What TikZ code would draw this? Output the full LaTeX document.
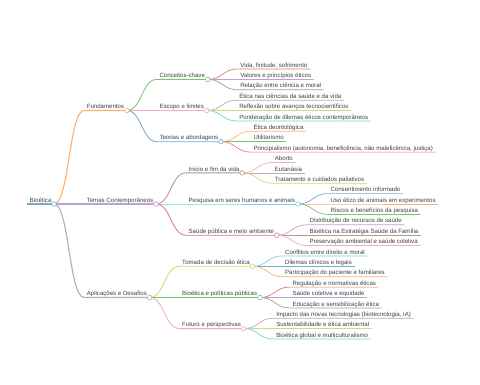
\documentclass[tikz,border=0pt]{standalone}
\usepackage{fontspec}
\setmainfont{Liberation Sans}
\usepackage{tikz}
\usetikzlibrary{calc}

\definecolor{dBlue}{HTML}{1F77B4}
\definecolor{dOrange}{HTML}{FF7F0E}
\definecolor{dGreen}{HTML}{2CA02C}
\definecolor{dRed}{HTML}{D62728}
\definecolor{dPurple}{HTML}{9467BD}
\definecolor{dBrown}{HTML}{8C564B}
\definecolor{dPink}{HTML}{E377C2}
\definecolor{dGray}{HTML}{7F7F7F}
\definecolor{dOlive}{HTML}{BCBD22}
\definecolor{dCyan}{HTML}{17BECF}
\colorlet{mmBlue}{dBlue!62!white}
\colorlet{mmOrange}{dOrange!62!white}
\colorlet{mmGreen}{dGreen!62!white}
\colorlet{mmRed}{dRed!62!white}
\colorlet{mmPurple}{dPurple!62!white}
\colorlet{mmBrown}{dBrown!62!white}
\colorlet{mmPink}{dPink!62!white}
\colorlet{mmGray}{dGray!62!white}
\colorlet{mmOlive}{dOlive!62!white}
\colorlet{mmCyan}{dCyan!62!white}

\tikzset{
  mm/.style={font=\fontsize{6.1}{7}\selectfont, text=black!75, inner xsep=2.5pt,
    inner ysep=1.7pt, text depth=0pt, anchor=south west},
  sub/.style={mm, xshift=30pt},
  link/.style={to path={let \p1=(\tikztostart), \p2=(\tikztotarget) in
    .. controls ({(\x1+\x2)/2},\y1) and ({(\x1+\x2)/2},\y2) .. (\tikztotarget)}},
  lone/.style={line width=1.1pt},
  ltwo/.style={line width=0.85pt},
  lthree/.style={line width=0.7pt},
  knob/.style={circle, draw, fill=white, inner sep=0pt, minimum size=4.6pt, line width=0.6pt},
}

\begin{document}
\begin{tikzpicture}[x=1pt, y=-1pt]
\fill[white] (0,0) rectangle (480,384);
\useasboundingbox (0,0) rectangle (480,384);

% root and main branches
\node[mm] (root) at (27,204) {Bioética};
\node[sub] (fund) at (root.south east |- 0,110.5) {Fundamentos};
\node[sub] (temas) at (root.south east |- 0,204) {Temas Contemporâneos};
\node[sub] (aplic) at (root.south east |- 0,297.5) {Aplicações e Desafios};

% second level
\node[sub] (conc) at (fund.south east |- 0,79.4) {Conceitos-chave};
\node[sub] (escopo) at (fund.south east |- 0,110.5) {Escopo e limites};
\node[sub] (teorias) at (fund.south east |- 0,141.7) {Teorias e abordagens};
\node[sub] (inicio) at (temas.south east |- 0,172.9) {Início e fim da vida};
\node[sub] (pesq) at (temas.south east |- 0,204) {Pesquisa em seres humanos e animais};
\node[sub] (saude) at (temas.south east |- 0,235.2) {Saúde pública e meio ambiente};
\node[sub] (tomada) at (aplic.south east |- 0,266.3) {Tomada de decisão ética};
\node[sub] (polit) at (aplic.south east |- 0,297.5) {Bioética e políticas públicas};
\node[sub] (futuro) at (aplic.south east |- 0,328.6) {Futuro e perspectivas};

% leaves
\node[sub] (vida) at (conc.south east |- 0,69) {Vida, finitude, sofrimento};
\node[sub] (valores) at (conc.south east |- 0,79.4) {Valores e princípios éticos};
\node[sub] (relacao) at (conc.south east |- 0,89.8) {Relação entre ciência e moral};
\node[sub] (etica) at (escopo.south east |- 0,100.2) {Ética nas ciências da saúde e da vida};
\node[sub] (reflexao) at (escopo.south east |- 0,110.5) {Reflexão sobre avanços tecnocientíficos};
\node[sub] (ponder) at (escopo.south east |- 0,120.9) {Ponderação de dilemas éticos contemporâneos};
\node[sub] (deont) at (teorias.south east |- 0,131.3) {Ética deontológica};
\node[sub] (utilit) at (teorias.south east |- 0,141.7) {Utilitarismo};
\node[sub] (princip) at (teorias.south east |- 0,152.1) {Principialismo (autonomia, beneficência, não maleficência, justiça)};
\node[sub] (aborto) at (inicio.south east |- 0,162.5) {Aborto};
\node[sub] (eutan) at (inicio.south east |- 0,172.9) {Eutanásia};
\node[sub] (tratam) at (inicio.south east |- 0,183.2) {Tratamento e cuidados paliativos};
\node[sub] (consent) at (pesq.south east |- 0,193.6) {Consentimento informado};
\node[sub] (animais) at (pesq.south east |- 0,204) {Uso ético de animais em experimentos};
\node[sub] (riscos) at (pesq.south east |- 0,214.4) {Riscos e benefícios da pesquisa};
\node[sub] (distrib) at (saude.south east |- 0,224.8) {Distribuição de recursos de saúde};
\node[sub] (estrat) at (saude.south east |- 0,235.2) {Bioética na Estratégia Saúde da Família};
\node[sub] (preserv) at (saude.south east |- 0,245.5) {Preservação ambiental e saúde coletiva};
\node[sub] (conflit) at (tomada.south east |- 0,255.9) {Conflitos entre direito e moral};
\node[sub] (dilemas) at (tomada.south east |- 0,266.3) {Dilemas clínicos e legais};
\node[sub] (partic) at (tomada.south east |- 0,276.7) {Participação do paciente e familiares};
\node[sub] (regul) at (polit.south east |- 0,287.1) {Regulação e normativas éticas};
\node[sub] (coletiva) at (polit.south east |- 0,297.5) {Saúde coletiva e equidade};
\node[sub] (educ) at (polit.south east |- 0,307.9) {Educação e sensibilização ética};
\node[sub] (impacto) at (futuro.south east |- 0,318.2) {Impacto das novas tecnologias (biotecnologia, IA)};
\node[sub] (sustent) at (futuro.south east |- 0,328.6) {Sustentabilidade e ética ambiental};
\node[sub] (global) at (futuro.south east |- 0,339) {Bioética global e multiculturalismo};

% connectors with underlines
\draw[mmBlue, line width=1.4pt] (root.south west) -- (root.south east);
\draw[link, lone, mmOrange] (root.south east) to (fund.south west) -- (fund.south east);
\draw[link, lone, mmPurple] (root.south east) to (temas.south west) -- (temas.south east);
\draw[link, lone, mmGray] (root.south east) to (aplic.south west) -- (aplic.south east);

\draw[link, ltwo, mmGreen] (fund.south east) to (conc.south west) -- (conc.south east);
\draw[link, ltwo, mmPink] (fund.south east) to (escopo.south west) -- (escopo.south east);
\draw[link, ltwo, mmBlue] (fund.south east) to (teorias.south west) -- (teorias.south east);
\draw[link, ltwo, mmBrown] (temas.south east) to (inicio.south west) -- (inicio.south east);
\draw[link, ltwo, mmCyan] (temas.south east) to (pesq.south west) -- (pesq.south east);
\draw[link, ltwo, mmRed] (temas.south east) to (saude.south west) -- (saude.south east);
\draw[link, ltwo, mmOlive] (aplic.south east) to (tomada.south west) -- (tomada.south east);
\draw[link, ltwo, mmGreen] (aplic.south east) to (polit.south west) -- (polit.south east);
\draw[link, ltwo, mmPink] (aplic.south east) to (futuro.south west) -- (futuro.south east);

\foreach \src/\clr/\dst in {conc/mmRed/vida, conc/mmPurple/valores, conc/mmBrown/relacao,
    escopo/mmGray/etica, escopo/mmOlive/reflexao, escopo/mmCyan/ponder,
    teorias/mmOrange/deont, teorias/mmGreen/utilit, teorias/mmRed/princip,
    inicio/mmPink/aborto, inicio/mmGray/eutan, inicio/mmOlive/tratam,
    pesq/mmBlue/consent, pesq/mmOrange/animais, pesq/mmGreen/riscos,
    saude/mmPurple/distrib, saude/mmBrown/estrat, saude/mmPink/preserv,
    tomada/mmCyan/conflit, tomada/mmBlue/dilemas, tomada/mmOrange/partic,
    polit/mmRed/regul, polit/mmPurple/coletiva, polit/mmBrown/educ,
    futuro/mmGray/impacto, futuro/mmOlive/sustent, futuro/mmCyan/global}
  \draw[link, lthree, \clr] (\src.south east) to (\dst.south west) -- (\dst.south east);

% knobs on inner nodes
\foreach \dst/\clr in {root/mmBlue, fund/mmOrange, temas/mmPurple, aplic/mmGray,
    conc/mmGreen, escopo/mmPink, teorias/mmBlue, inicio/mmBrown, pesq/mmCyan,
    saude/mmRed, tomada/mmOlive, polit/mmGreen, futuro/mmPink}
  \node[knob, draw=\clr] at (\dst.south east) {};
\end{tikzpicture}
\end{document}
